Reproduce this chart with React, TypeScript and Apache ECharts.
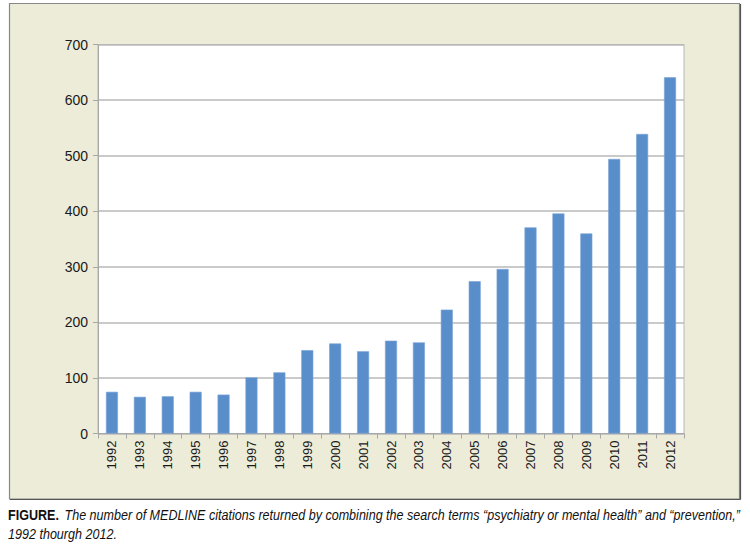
import React, { useEffect, useRef } from "react";
import * as echarts from "echarts";

const years = [
  "1992", "1993", "1994", "1995", "1996", "1997", "1998", "1999", "2000", "2001", "2002",
  "2003", "2004", "2005", "2006", "2007", "2008", "2009", "2010", "2011", "2012",
];
const citations = [
  75, 66, 67, 75, 70, 101, 110, 150, 162, 148, 167,
  164, 223, 274, 296, 371, 396, 360, 494, 539, 641,
];
const yMin = 0;
const yMax = 700;
const yInterval = 100;
const captionLabel = "FIGURE.";
const captionLine1 =
  "The number of MEDLINE citations returned by combining the search terms \u201cpsychiatry or mental health\u201d and \u201cprevention,\u201d";
const captionLine2 = "1992 thourgh 2012.";

export default function App() {
  const ref = useRef<HTMLDivElement>(null);
  useEffect(() => {
    if (!ref.current) return;
    const chart = echarts.init(ref.current, undefined, { renderer: "svg" });
    const font = "'Liberation Sans', Arial, sans-serif";
    chart.setOption({
      animation: false,
      backgroundColor: "#ffffff",
      grid: {
        left: 98,
        right: 66,
        top: 44.5,
        bottom: 114.5,
        show: true,
        backgroundColor: "#ffffff",
        borderColor: "#b8b8b8",
        borderWidth: 1,
        z: 2,
      },
      xAxis: {
        type: "category",
        data: years,
        axisLine: { show: true, lineStyle: { color: "#a8a8a8", width: 1 } },
        axisTick: { show: true, length: 5, lineStyle: { color: "#a8a8a8" } },
        axisLabel: {
          rotate: 90,
          fontSize: 13,
          fontFamily: font,
          color: "#1a1a1a",
          margin: 7,
          interval: 0,
        },
        z: 3,
      },
      yAxis: {
        type: "value",
        min: yMin,
        max: yMax,
        interval: yInterval,
        axisLine: { show: true, lineStyle: { color: "#a8a8a8", width: 1 } },
        axisTick: { show: true, length: 5, lineStyle: { color: "#a8a8a8" } },
        splitLine: { show: true, lineStyle: { color: "#b8b8b8", width: 1.5 } },
        axisLabel: {
          fontSize: 14,
          fontFamily: font,
          color: "#1a1a1a",
          margin: 10,
        },
        z: 3,
      },
      series: [
        {
          type: "bar",
          data: citations,
          barWidth: "43%",
          itemStyle: { color: "#5a8ecb", borderColor: "#7aa4d6", borderWidth: 0.6 },
          z: 4,
        },
      ],
      graphic: [
        {
          type: "rect",
          z: -10,
          shape: { x: 9.5, y: 3.5, width: 730, height: 495.5 },
          style: { fill: "#ececd9", stroke: "#888888", lineWidth: 1.2 },
        },
        {
          type: "line",
          z: -9,
          shape: { x1: 10, y1: 499.5, x2: 740.5, y2: 499.5 },
          style: { stroke: "#555555", lineWidth: 1.2 },
        },
        {
          type: "line",
          z: -9,
          shape: { x1: 740.5, y1: 4, x2: 740.5, y2: 499.5 },
          style: { stroke: "#555555", lineWidth: 1.2 },
        },
        {
          type: "text",
          x: 8,
          y: 507,
          scaleX: 0.837,
          style: {
            text: "{b|" + captionLabel + "}  {i|" + captionLine1 + "}",
            rich: {
              b: { fontFamily: font, fontWeight: "bold", fontSize: 15, fill: "#111111" },
              i: { fontFamily: font, fontStyle: "italic", fontSize: 15, fill: "#111111" },
            },
            fill: "#111111",
          },
        },
        {
          type: "text",
          x: 8,
          y: 526,
          scaleX: 0.837,
          style: {
            text: captionLine2,
            fontFamily: font,
            fontStyle: "italic",
            fontSize: 15,
            fill: "#111111",
          },
        },
      ],
    });
    return () => chart.dispose();
  }, []);
  return (
    <div
      ref={ref}
      style={{ position: "absolute", left: 0, top: 0, width: 750, height: 548 }}
    />
  );
}
